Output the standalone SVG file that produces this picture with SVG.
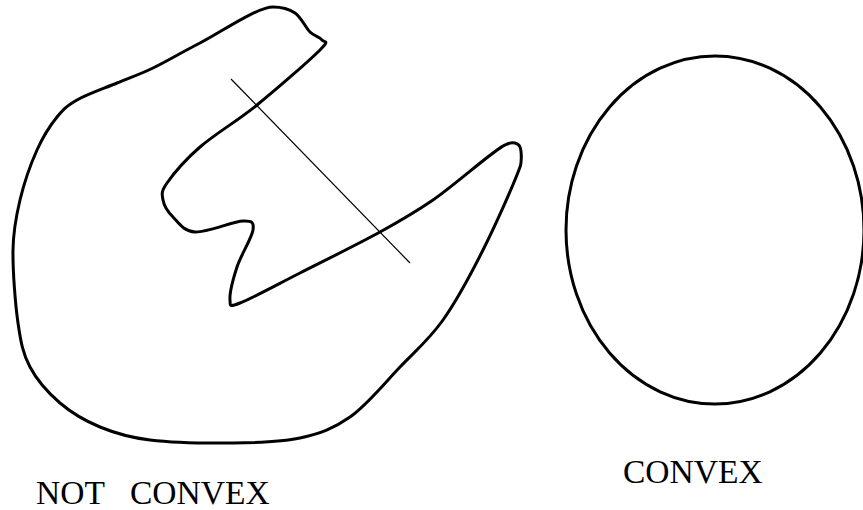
<svg xmlns="http://www.w3.org/2000/svg" width="863" height="510" viewBox="0 0 863 510">
<style>
.shape{fill:none;stroke:#000;stroke-width:3;stroke-linejoin:round}
.thin{fill:none;stroke:#000;stroke-width:1.2}
.lbl{font-family:"Liberation Serif","Times New Roman",serif;font-size:33.5px;fill:#000}
</style>
<rect width="863" height="510" fill="#fff"/>
<g id="not-convex">
<path class="shape" d="M273,7 C281,7 288.8,8.8 295,13 C301.2,17.2 305.5,27.5 310,32 C314.5,36.5 320.3,37 322,40 C323.7,43 330.8,39.2 320,50 C309.2,60.8 277,88.8 257,105 C237,121.2 215,134 200,147 C185,160 173.2,174.2 167,183 C160.8,191.8 162,194.3 163,200 C164,205.7 167.7,211.7 173,217 C178.3,222.3 183.3,231.3 195,232 C206.7,232.7 233.3,221.3 243,221 C252.7,220.7 254,222.3 253,230 C252,237.7 240.8,255.3 237,267 C233.2,278.7 229.5,294 230,300 C230.5,306 228.3,307.5 240,303 C251.7,298.5 276.7,284.8 300,273 C323.3,261.2 357.8,244.2 380,232 C402.2,219.8 411.3,214.8 433,200 C454.7,185.2 495,149 505,145 C513,141 518.3,143 520,147 C521.7,151 521.7,163 520,167 C513.8,184.2 495.8,224.5 483,250 C470.2,275.5 456.8,300.5 443,320 C429.2,339.5 415.5,350.8 400,367 C384.5,383.2 366.7,405.2 350,417 C333.3,428.8 319.5,433.7 300,438 C280.5,442.3 258,442.7 233,443 C208,443.3 172.2,442.7 150,440 C127.8,437.3 115,433.2 100,427 C85,420.8 71.7,413 60,403 C48.3,393 37,380.3 30,367 C23,353.7 20.8,342.5 18,323 C15.2,303.5 12.7,270.5 13,250 C13.3,229.5 16,216.7 20,200 C24,183.3 30.8,163.8 37,150 C43.2,136.2 50.3,125.3 57,117 C63.7,108.7 67,105.7 77,100 C87,94.3 104.3,88.3 117,83 C129.7,77.7 139.2,74.7 153,68 C166.8,61.3 180,53.2 200,43 C220,32.8 257,7 273,7 Z"/>
</g>
<g id="connectors">
<line class="thin" x1="231" y1="79" x2="410" y2="263"/>
</g>
<g id="convex">
<ellipse class="shape" cx="715" cy="230" rx="149" ry="174"/>
</g>
<g id="labels">
<text class="lbl" x="36" y="504">NOT<tspan x="130">CONVEX</tspan></text>
<text class="lbl" x="623" y="483">CONVEX</text>
</g>
</svg>
